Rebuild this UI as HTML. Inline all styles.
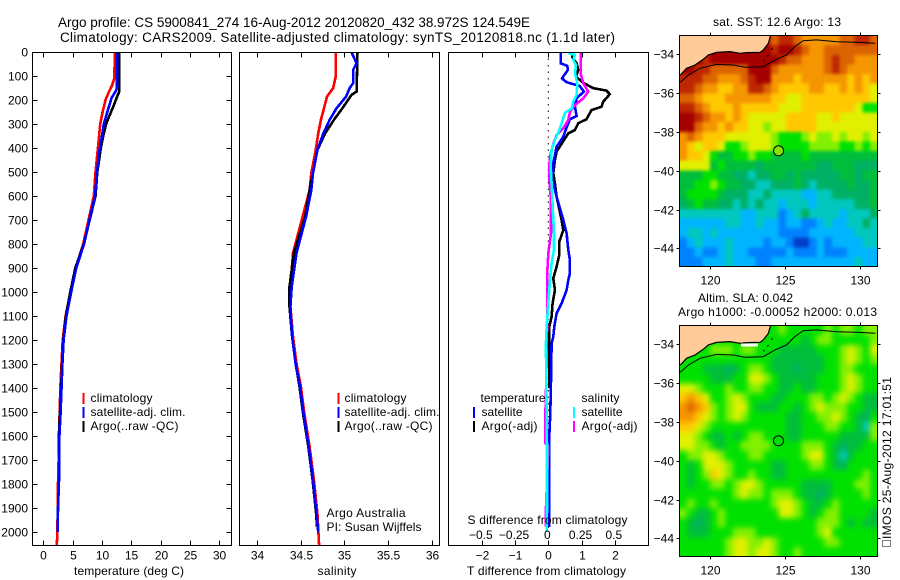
<!DOCTYPE html>
<html lang="en">
<head>
<meta charset="utf-8">
<title>Argo profile</title>
<style>
html,body{margin:0;padding:0;background:#fff;}
svg{display:block;font-family:"Liberation Sans",Arial,sans-serif;fill:#000;}
text{font-size:12px;fill:#000;}
.t{font-size:13.5px;}
</style>
</head>
<body>
<svg id="fig" xmlns="http://www.w3.org/2000/svg" width="900" height="580" viewBox="0 0 900 580">
<defs>
<clipPath id="c1"><rect x="32.5" y="52" width="199" height="493"/></clipPath>
<clipPath id="c2"><rect x="239.5" y="52" width="200" height="493"/></clipPath>
<clipPath id="c3"><rect x="448.5" y="52" width="200" height="493"/></clipPath>
<clipPath id="m1"><rect x="679.5" y="35.5" width="198" height="231"/></clipPath>
<clipPath id="m2"><rect x="679.5" y="325.5" width="198" height="231"/></clipPath>
<filter id="blur1" filterUnits="userSpaceOnUse" x="650" y="5" width="250" height="290" color-interpolation-filters="sRGB"><feGaussianBlur stdDeviation="1.7"/></filter>
<filter id="blur2" filterUnits="userSpaceOnUse" x="650" y="295" width="250" height="290" color-interpolation-filters="sRGB"><feGaussianBlur stdDeviation="3"/></filter>
</defs>
<text class="t" x="58" y="27" textLength="472">Argo profile: CS 5900841_274 16-Aug-2012 20120820_432 38.972S 124.549E</text>
<text class="t" x="60" y="42" textLength="555">Climatology: CARS2009. Satellite-adjusted climatology: synTS_20120818.nc (1.1d later)</text>

<g clip-path="url(#m1)"><g id="cells1" filter="url(#blur1)"></g></g>
<g clip-path="url(#m2)"><g id="cells2" filter="url(#blur2)"></g></g>
<g id="geo"></g>
<g id="series"></g>
<g id="axes"></g>

<g>
<rect x="82.5" y="393" width="2" height="11" fill="#f00"/>
<rect x="82.5" y="407" width="2" height="11" fill="#00f"/>
<rect x="82.5" y="421" width="2" height="11" fill="#000"/>
<text x="90.5" y="402" textLength="62">climatology</text>
<text x="90.5" y="416" textLength="95">satellite-adj. clim.</text>
<text x="90.5" y="430" textLength="88">Argo(..raw -QC)</text>
</g>
<g>
<rect x="337.5" y="393" width="2" height="11" fill="#f00"/>
<rect x="337.5" y="407" width="2" height="11" fill="#00f"/>
<rect x="337.5" y="421" width="2" height="11" fill="#000"/>
<text x="344.5" y="402" textLength="62">climatology</text>
<text x="344.5" y="416" textLength="95">satellite-adj. clim.</text>
<text x="344.5" y="430" textLength="88">Argo(..raw -QC)</text>
<text x="326.5" y="517" textLength="79">Argo Australia</text>
<text x="326.5" y="531" textLength="95">PI: Susan Wijffels</text>
</g>
<g>
<text x="480.5" y="402" textLength="65">temperature</text>
<rect x="473" y="407" width="2" height="11" fill="#00f"/>
<rect x="473" y="421" width="2" height="11" fill="#000"/>
<text x="481.5" y="416" textLength="41">satellite</text>
<text x="481.5" y="430" textLength="56">Argo(-adj)</text>
<text x="581.5" y="402" textLength="38">salinity</text>
<rect x="573" y="407" width="2" height="11" fill="#0ff"/>
<rect x="573" y="421" width="2" height="11" fill="#f0f"/>
<text x="581.5" y="416" textLength="41">satellite</text>
<text x="581.5" y="430" textLength="56">Argo(-adj)</text>
</g>

<text x="129" y="575" text-anchor="middle" textLength="110">temperature (deg C)</text>
<text x="337" y="575" text-anchor="middle" textLength="39">salinity</text>
<text x="546.5" y="575" text-anchor="middle" textLength="159">T difference from climatology</text>
<text x="547.5" y="524" text-anchor="middle" textLength="160">S difference from climatology</text>

<text x="777" y="26" text-anchor="middle" textLength="128">sat. SST: 12.6 Argo: 13</text>
<text x="745.5" y="302" text-anchor="middle" textLength="95">Altim. SLA: 0.042</text>
<text x="777.5" y="316" text-anchor="middle" textLength="199">Argo h1000: -0.00052 h2000: 0.013</text>
<text transform="translate(891,539) rotate(-90)" textLength="162">IMOS 25-Aug-2012 17:01:51</text>
<rect x="882.5" y="540.5" width="8" height="6" fill="none" stroke="#000" stroke-width="1" stroke-dasharray="1 1"/>
</svg>

<script>
// ---- tick labels ----
var depthTicks = [0,100,200,300,400,500,600,700,800,900,1000,1100,1200,1300,1400,1500,1600,1700,1800,1900,2000];
var tempTicks = [0,5,10,15,20,25,30];
var salTicks = [34,34.5,35,35.5,36];
var tDiffTicks = [-2,-1,0,1,2];
var sDiffTicks = [-0.5,-0.25,0,0.25,0.5];
var lonTicks = [120,125,130];
var latTicks = [-34,-36,-38,-40,-42,-44];

// ---- temperature profiles ----
var tempClimDepth = [0,110,140,170,200,250,300,350,400,500,600,700,800,900,1000,1100,1200,1300,1400,1500,1600,1700,1800,1900,2000,2054];
var tempClim = [12.2,12.1,11.7,11.1,10.6,10.1,9.7,9.5,9.3,8.9,8.6,7.7,6.8,5.5,4.6,3.8,3.3,3.1,2.9,2.8,2.65,2.6,2.5,2.45,2.4,2.3];
var tempArgoDepth = [0,165,190,220,260,300,350,400,450,500,600,700,800,900,1000,1100,1200,1300,1400,1500,1600,1680];
var tempArgo = [12.95,12.95,12.5,12.05,11.36,10.7,10.2,9.8,9.5,9.2,8.9,7.9,6.9,5.45,4.6,3.85,3.4,3.2,3.05,2.85,2.65,2.6];
var tempSatDepth = [0,150,165,190,250,300,350,420,500,600,700,800,900,1000,1100,1200,1300,1400,1500,1600,1700,1800,1900,2000];
var tempSat = [12.55,12.55,12.3,11.65,10.9,10.3,10.0,9.5,9.15,8.8,7.85,6.95,5.6,4.75,3.95,3.45,3.25,3.1,2.95,2.75,2.75,2.65,2.5,2.45];

// ---- salinity profiles ----
var salClimDepth = [0,103,151,186,228,283,338,408,505,575,686,838,978,1061,1186,1298,1394,1505,1644,1783,1922,2054];
var salClim = [34.90,34.90,34.87,34.80,34.77,34.73,34.70,34.67,34.62,34.60,34.52,34.41,34.38,34.38,34.41,34.45,34.50,34.54,34.60,34.65,34.69,34.71];
var salArgoDepth = [0,165,179,228,283,338,408,505,575,686,838,978,1061,1186,1298,1394,1505,1644,1783,1922,1978];
var salArgo = [35.15,35.14,35.08,34.99,34.88,34.78,34.69,34.64,34.60,34.55,34.42,34.37,34.37,34.40,34.44,34.485,34.525,34.585,34.635,34.675,34.685];
var salSatDepth = [0,47,75,130,151,186,234,283,338,408,505,575,686,838,978,1061,1186,1298,1394,1505,1644,1783,1922,2003];
var salSat = [35.08,35.14,35.10,35.10,35.06,35.02,34.91,34.83,34.76,34.69,34.64,34.62,34.56,34.45,34.395,34.38,34.40,34.44,34.49,34.53,34.59,34.64,34.68,34.70];

// ---- differences from climatology ----
var dTempSatDepth = [0,47,58,75,110,126,142,165,193,228,267,280,314,353,394,464,533,603,700,755,825,867,922,950,992,1047,1089,1144,1186,1214,1367,1505,1600,1980];
var dTempSat = [0.37,0.37,0.57,0.59,0.41,0.55,0.95,1.07,0.85,0.80,0.85,0.65,0.55,0.45,0.25,0.15,0.13,0.25,0.45,0.55,0.60,0.65,0.65,0.60,0.55,0.40,0.25,0.18,0.15,0.10,0.08,0.06,0.03,0.03];
var dTempArgoDepth = [0,26,47,75,103,128,151,161,176,207,228,242,280,297,325,339,367,415,450,505,547,603,700,742,790,846,894,943,992,1047,1103,1144,1200,1367,1400];
var dTempArgo = [0.72,0.73,0.85,0.90,0.83,1.05,1.35,1.75,1.85,1.65,1.60,1.30,1.15,0.90,0.80,0.60,0.47,0.25,0.20,0.15,0.20,0.25,0.40,0.45,0.33,0.33,0.25,0.15,0.20,0.13,0.10,0.03,0.03,0.03,0.03];
var dSalSatDepth = [5,12,33,54,89,131,179,207,235,253,283,318,367,408,478,547,644,755,825,880,950,1047,1144,1214,1367,1644,1908,2000];
var dSalSat = [0.150,0.201,0.188,0.208,0.201,0.218,0.213,0.188,0.176,0.126,0.108,0.088,0.050,0.025,0.018,0.025,0.033,0.043,0.043,0.025,0.013,0.000,-0.012,-0.018,-0.015,-0.010,-0.010,-0.012];
var dSalArgoDepth = [5,89,131,165,193,221,249,283,318,346,374,422,464,533,617,755,839,922,1089,1367,1505,1630,1644,1908,1978];
var dSalArgo = [0.243,0.243,0.263,0.300,0.263,0.201,0.163,0.150,0.113,0.063,0.043,0.018,0.008,0.008,0.020,0.020,0.000,-0.008,-0.008,-0.015,-0.022,-0.022,0.000,-0.018,-0.018];

// ---- map heatmaps: colour level per 0.5 deg box, rows north to south ----
var sstGrid = [
[12,12,12,12,12,12,12,12,12,12,12,12,11,12,12,11,10,10,10,10,10,11,11,12,12,11],
[13,13,13,13,13,13,13,13,13,13,13,13,12,13,13,12,11,10,10,11,11,11,11,11,11,11],
[13,13,13,12,13,13,13,13,13,13,13,13,13,12,11,11,10,10,10,11,12,11,11,10,10,10],
[13,13,12,12,11,11,11,11,11,13,13,13,11,10,10,10,10,10,10,11,12,11,10,10,10,10],
[12,12,12,11,11,10,10,10,11,12,13,13,10,10,10,9,10,10,10,10,10,10,9,10,9,10],
[12,12,11,10,10,9,9,10,10,12,12,11,10,9,9,9,9,10,10,9,9,10,9,10,9,8],
[11,11,10,9,9,9,10,10,10,10,10,10,9,9,8,8,9,9,9,9,9,9,9,9,9,8],
[12,12,11,10,9,9,9,10,9,9,9,9,9,8,8,8,9,9,9,9,9,9,9,8,6,6],
[13,13,12,11,10,10,9,10,9,8,8,8,8,8,9,9,9,9,8,8,9,8,8,8,8,8],
[13,13,11,10,10,9,10,9,9,8,8,7,8,8,9,9,9,9,8,8,8,8,8,8,8,8],
[10,11,10,9,9,9,8,8,8,8,8,8,7,6,6,6,7,8,7,7,8,7,8,8,7,8],
[10,9,8,9,9,8,6,6,7,8,8,8,7,6,6,6,6,7,7,7,7,6,6,7,6,7],
[10,9,9,8,6,5,5,6,6,7,6,6,5,5,5,5,6,5,5,5,5,5,5,5,5,5],
[8,8,8,8,5,6,5,5,5,5,4,5,5,5,5,5,5,5,4,4,5,5,5,4,4,4],
[5,5,5,6,6,5,5,4,4,3,4,4,5,5,4,5,4,4,4,4,4,5,5,4,5,5],
[5,5,6,6,7,6,5,5,4,4,3,3,4,4,4,5,4,3,4,4,4,4,5,4,4,5],
[5,6,6,6,6,5,4,4,4,3,3,4,3,3,3,3,2,2,3,3,4,4,4,4,4,5],
[4,5,6,5,5,4,4,3,4,3,4,3,3,2,3,3,3,2,3,3,3,3,3,4,4,5],
[3,3,3,3,3,3,3,3,2,2,3,3,3,1,2,3,4,3,3,3,3,2,3,3,3,4],
[2,2,2,2,2,2,3,3,2,2,3,2,2,1,2,2,1,1,2,3,2,2,3,3,4,3],
[2,3,3,2,3,2,2,2,2,2,2,2,2,1,1,1,1,2,2,2,2,2,2,3,3,3],
[1,2,3,2,2,2,3,2,2,2,2,1,2,2,1,0,0,1,2,1,2,2,2,2,3,3],
[1,1,2,1,1,2,3,2,2,1,1,1,1,1,2,1,1,1,2,1,1,1,2,2,2,2],
[1,1,1,2,2,2,3,2,2,2,1,1,2,2,2,2,2,2,2,2,2,2,2,3,2,2]
];
var slaGrid = [
[6,6,6,6,6,6,6,6,6,6,6,6,6,7,6,6,6,6,6,7,6,7,7,6,7,7],
[6,6,6,6,6,6,6,6,6,6,6,6,6,6,6,6,5,6,7,7,6,6,6,6,6,7],
[6,6,6,6,7,7,7,6,7,7,6,6,6,5,5,5,5,5,6,6,6,7,8,7,6,8],
[6,6,6,6,6,6,6,6,6,6,6,6,5,5,5,5,5,5,5,6,6,7,8,7,6,7],
[6,6,6,5,5,5,4,5,6,7,7,6,5,5,5,4,5,5,5,6,6,7,7,6,6,6],
[6,6,6,6,5,5,5,6,6,8,8,7,6,5,5,5,5,5,6,6,6,7,8,7,6,6],
[8,8,7,6,6,6,7,6,6,7,7,6,6,5,5,6,5,5,6,6,6,7,8,7,6,6],
[9,10,9,8,6,6,7,8,7,6,6,6,5,5,6,6,6,7,7,6,7,8,7,6,5,5],
[10,11,10,9,7,6,7,8,8,6,5,5,5,6,6,5,6,7,8,7,7,7,6,6,5,5],
[10,10,9,8,7,6,7,8,7,6,6,6,6,6,5,5,6,6,7,7,8,7,6,5,4,6],
[9,9,8,7,6,6,6,6,6,6,6,6,6,6,5,5,6,6,6,7,7,6,6,5,3,7],
[8,8,7,6,5,5,6,5,6,7,7,6,6,6,5,5,6,6,6,6,6,5,5,5,5,7],
[8,8,7,7,6,5,6,6,7,7,7,7,6,6,6,6,7,7,7,6,5,4,5,5,6,6],
[6,7,7,8,8,7,6,6,6,7,7,6,6,6,6,6,7,8,8,6,5,3,5,6,6,6],
[6,5,6,8,8,8,7,6,6,6,6,6,5,5,6,6,6,7,7,6,5,4,6,6,6,6],
[6,5,6,7,9,8,7,6,6,7,6,6,5,5,6,6,6,6,6,6,6,6,6,6,7,6],
[6,5,6,6,7,7,6,7,8,8,7,6,6,6,6,6,5,5,5,5,6,6,6,7,7,6],
[6,6,6,6,6,6,6,7,8,7,7,6,7,7,7,6,5,5,4,5,6,6,6,6,7,6],
[6,7,6,6,7,6,6,6,6,6,6,6,7,8,8,7,6,5,5,6,7,6,6,6,6,6],
[7,6,5,5,6,7,6,6,6,6,6,6,6,8,8,7,6,5,6,7,7,6,6,6,6,5],
[6,5,4,5,6,7,6,6,6,6,6,6,6,6,6,6,6,6,7,7,7,6,5,6,5,5],
[6,5,5,5,6,6,6,7,7,7,6,6,6,6,6,6,6,6,7,8,6,6,6,6,6,6],
[6,6,6,6,6,6,7,8,8,7,7,8,7,6,6,6,6,6,6,7,7,6,6,6,6,6],
[6,6,6,6,6,6,7,8,8,7,8,8,7,6,6,7,6,6,6,6,6,6,6,6,6,6]
];
var colorScale = ["#0040c8","#0082ff","#00b4ff","#00c8be","#00b064","#00be3c","#00e100","#82f000","#e1f000","#ffc800","#f59600","#dc6400","#be2800","#a50000"];

// ---- geography (lon / lat) ----
var coastLon = [118,118.42,118.98,119.53,119.87,120.42,121.31,121.98,122.42,123.31,123.53,123.87,124.02];
var coastLat = [-35.07,-34.72,-34.55,-34.26,-34.03,-33.90,-33.86,-33.95,-33.91,-33.90,-33.78,-33.43,-33.02];
var shelfLon = [118,118.53,119.31,120.42,121.53,122.31,123.53,124.31,125.09,125.64,126.2,127.09,128.42,129.76,131];
var shelfLat = [-35.44,-35.07,-34.72,-34.52,-34.55,-34.67,-34.64,-34.29,-34.03,-33.60,-33.30,-33.26,-33.35,-33.38,-33.43];
var isleLon = [123.56,123.6,124.12,124.14];
var isleLat = [-34.28,-34.38,-33.72,-33.95];
var floatLon = 124.549;
var floatLat = -38.972;

// ---- axis functions ----
var NS = "http://www.w3.org/2000/svg";
function depthY(d){ return 52 + d * 0.24; }
function tempX(v){ return 43.3 + v * 5.87; }
function salX(v){ return 257.3 + (v - 34) * 87.1; }
function tDiffX(v){ return 548.3 + v * 33.25; }
function sDiffX(v){ return 548.3 + v * 133; }
function lonX(v){ return 710.3 + (v - 120) * 15; }
function latY1(v){ return 54.3 + (-34 - v) * 19.4; }
function latY2(v){ return 344.3 + (-34 - v) * 19.4; }
function mk(tag, attrs, parent){
  var el = document.createElementNS(NS, tag);
  for (var k in attrs) el.setAttribute(k, attrs[k]);
  parent.appendChild(el);
  return el;
}
function fmt(v){ return String(v).replace("-", "\u2212"); }
var axes = document.getElementById("axes");
var series = document.getElementById("series");
var geo = document.getElementById("geo");

function frame(x, y, w, h, name){
  var r = mk("rect", {x:x, y:y, width:w, height:h, fill:"none", stroke:"#000", "stroke-width":1, "shape-rendering":"crispEdges"}, axes);
  
  
}
function tick(x1, y1, x2, y2){
  var l = mk("line", {x1:x1, y1:y1, x2:x2, y2:y2, stroke:"#000", "stroke-width":1, "shape-rendering":"crispEdges"}, axes);
  
  
}
function label(x, y, str, anchor){
  var t = mk("text", {x:x, y:y, "text-anchor":anchor}, axes);
  t.textContent = str;
  
  
}
function profile(xs, ds, xf, color, clip, name){
  var pts = [];
  for (var i = 0; i < xs.length; i++) pts.push(xf(xs[i]).toFixed(1) + "," + depthY(ds[i]).toFixed(1));
  var p = mk("polyline", {points:pts.join(" "), fill:"none", stroke:color, "stroke-width":2.6, "shape-rendering":"crispEdges", "clip-path":"url(#" + clip + ")"}, series);
  
  
}

// ---- panels ----
frame(32.5, 52.5, 199, 493, "temperature-panel-frame");
frame(239.5, 52.5, 200, 493, "salinity-panel-frame");
frame(448.5, 52.5, 200, 493, "difference-panel-frame");

depthTicks.forEach(function(d){
  var y = Math.round(depthY(d)) + 0.5;
  tick(32.5, y, 37.5, y);
  tick(226.5, y, 231.5, y);
  label(28, y + 4, String(d), "end");
});
tempTicks.forEach(function(v){
  var x = Math.round(tempX(v)) + 0.5;
  tick(x, 52.5, x, 57.5);
  tick(x, 540.5, x, 545.5);
  label(x, 559.5, String(v), "middle");
});
salTicks.forEach(function(v){
  var x = Math.round(salX(v)) + 0.5;
  tick(x, 52.5, x, 57.5);
  tick(x, 540.5, x, 545.5);
  label(x, 559.5, String(v), "middle");
});
tDiffTicks.forEach(function(v){
  var x = Math.round(tDiffX(v)) + 0.5;
  tick(x, 52.5, x, 57.5);
  tick(x, 540.5, x, 545.5);
  label(x, 559.5, fmt(v), "middle");
});
sDiffTicks.forEach(function(v){
  label(sDiffX(v) - 1, 539, fmt(v), "middle");
});

// zero line of the difference panel
var zeroLine = mk("line", {x1:tDiffX(0), y1:depthY(0), x2:tDiffX(0), y2:depthY(2000), stroke:"#000", "stroke-width":1, "stroke-dasharray":"1.5 5"}, series);



profile(tempClim, tempClimDepth, tempX, "#f00", "c1", "temperature-climatology-line");
profile(tempArgo, tempArgoDepth, tempX, "#000", "c1", "temperature-argo-line");
profile(tempSat, tempSatDepth, tempX, "#00f", "c1", "temperature-satellite-line");
profile(salClim, salClimDepth, salX, "#f00", "c2", "salinity-climatology-line");
profile(salArgo, salArgoDepth, salX, "#000", "c2", "salinity-argo-line");
profile(salSat, salSatDepth, salX, "#00f", "c2", "salinity-satellite-line");
profile(dTempArgo, dTempArgoDepth, tDiffX, "#000", "c3", "t-difference-argo-line");
profile(dTempSat, dTempSatDepth, tDiffX, "#00f", "c3", "t-difference-satellite-line");
profile(dSalArgo, dSalArgoDepth, sDiffX, "#f0f", "c3", "s-difference-argo-line");
profile(dSalSat, dSalSatDepth, sDiffX, "#0ff", "c3", "s-difference-satellite-line");

// ---- maps ----
function heatmap(grid, parent, top){
  var rows = grid.length;
  var cols = grid[0].length;
  var cw = 198 / cols;
  var ch = 231 / rows;
  for (var j = 0; j < rows; j++) {
    for (var i = 0; i < cols; i++) {
      // edge boxes extend past the clip so the smoothing does not fade at the frame
      var x = 679.5 + i * cw, y = top + j * ch, w = cw + 0.5, h = ch + 0.5;
      if (i === 0) { x -= 12; w += 12; }
      if (i === cols - 1) { w += 12; }
      if (j === 0) { y -= 12; h += 12; }
      if (j === rows - 1) { h += 12; }
      var c = mk("rect", {x:x.toFixed(2), y:y.toFixed(2), width:w.toFixed(2), height:h.toFixed(2), fill:colorScale[grid[j][i]], "shape-rendering":"crispEdges"}, parent);
      
      
    }
  }
}
heatmap(sstGrid, document.getElementById("cells1"), 35.5);
heatmap(slaGrid, document.getElementById("cells2"), 325.5);

function mapOverlay(latY, clip, circleFill){
  var coast = [], shelf = [], isle = [];
  for (var i = 0; i < coastLon.length; i++) coast.push(lonX(coastLon[i]).toFixed(1) + "," + latY(coastLat[i]).toFixed(1));
  for (var k = 0; k < shelfLon.length; k++) shelf.push(lonX(shelfLon[k]).toFixed(1) + "," + latY(shelfLat[k]).toFixed(1));
  for (var q = 0; q < isleLon.length; q++) isle.push(lonX(isleLon[q]).toFixed(1) + "," + latY(isleLat[q]).toFixed(1));
  var land = mk("polygon", {points:"679.5," + latY(-33).toFixed(1) + " " + coast.slice().reverse().join(" ") + " 679.5," + latY(coastLat[0]).toFixed(1), fill:"#ffcc99", stroke:"none", "clip-path":"url(#" + clip + ")"}, geo);
  
  
  var c = mk("polyline", {points:coast.join(" "), fill:"none", stroke:"#000", "stroke-width":1.2, "clip-path":"url(#" + clip + ")"}, geo);
  
  
  var s = mk("polyline", {points:shelf.join(" "), fill:"none", stroke:"#000", "stroke-width":1, "clip-path":"url(#" + clip + ")"}, geo);
  
  
  var d = mk("polyline", {points:isle.join(" "), fill:"none", stroke:"#000", "stroke-width":1, "stroke-dasharray":"2 6", "clip-path":"url(#" + clip + ")"}, geo);
  
  
  var m = mk("circle", {cx:lonX(floatLon), cy:latY(floatLat), r:5, fill:circleFill, stroke:"#000", "stroke-width":1}, geo);
  
  
}
mapOverlay(latY1, "m1", "#82e600");
mapOverlay(latY2, "m2", "none");

// missing-data patch along the coast of the altimetry map
var gap = mk("rect", {x:741, y:343.5, width:17, height:3, fill:"#fff", "shape-rendering":"crispEdges"}, geo);



function mapAxes(latY, top, name){
  frame(679.5, top, 198, 231, name);
  lonTicks.forEach(function(v){
    var x = Math.round(lonX(v)) + 0.5;
    tick(x, top - 3, x, top);
    tick(x, top + 231, x, top + 234);
    label(x, top + 249, String(v), "middle");
  });
  latTicks.forEach(function(v){
    var y = Math.round(latY(v)) + 0.5;
    tick(676.5, y, 679.5, y);
    tick(877.5, y, 880.5, y);
    label(674, y + 4, fmt(v), "end");
  });
}
mapAxes(latY1, 35.5, "sst-map-frame");
mapAxes(latY2, 325.5, "sla-map-frame");
</script>
</body>
</html>
